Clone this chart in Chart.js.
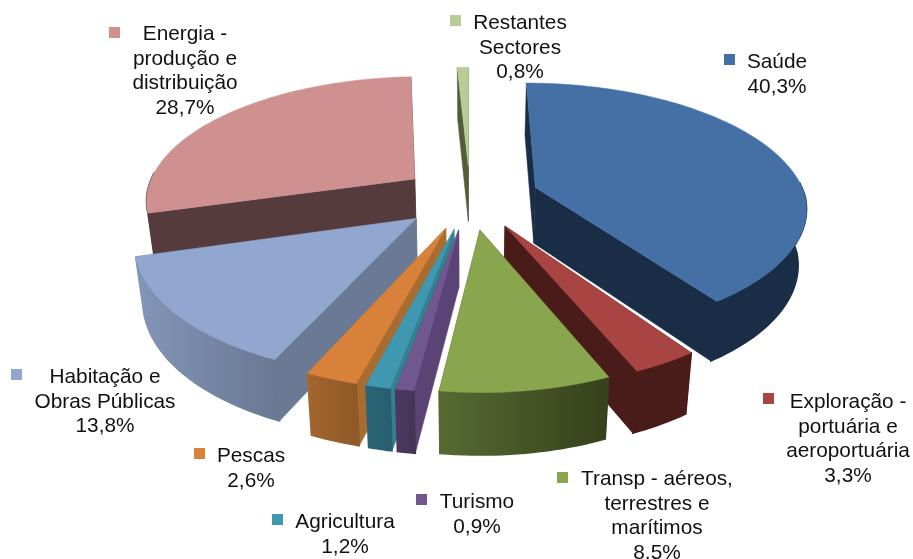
<!DOCTYPE html>
<html>
<head>
<meta charset="utf-8">
<style>
html,body{margin:0;padding:0;background:#fff;overflow:hidden}
canvas{display:block}
</style>
<script src="https://cdn.jsdelivr.net/npm/chart.js@4"></script>
</head>
<body>
<canvas id="myChart" width="913" height="559"></canvas>
<script>
const categories=[
    ['Saúde'],
    ['Exploração -','portuária e','aeroportuária'],
    ['Transp - aéreos,','terrestres e','marítimos'],
    ['Turismo'],
    ['Agricultura'],
    ['Pescas'],
    ['Habitação e','Obras Públicas'],
    ['Energia -','produção e','distribuição'],
    ['Restantes','Sectores'],
]
const values=[40.3,3.3,8.5,0.9,1.2,2.6,13.8,28.7,0.8]

const colors=['#4570a6','#a84542','#89a54d','#71578f','#4098b0','#d8813b','#92a7cf','#cf9190','#b8cd96']
const walls=['#1a2d46','#4a1c19','#4a5a2a','#5a4475','#33808f','#a86b30','#6b7a94','#553b3b','#505f3a']
const rimLeft=['#1a2d46','#4a1c19','#566a31','#4a3860','#2a6577','#a3662d','#8296b8','#553b3b','#505f3a']
const rimRight=['#1a2d46','#4a1c19','#36401b','#463455','#285e6f','#8f5928','#6a7993','#553b3b','#505f3a']

// cx = center of each label block, y = first baseline, mx/my = marker square
const labelPos=[
    {cx:777,y:68,mx:724,my:54},
    {cx:848,y:408,mx:763,my:393},
    {cx:657,y:485,mx:557,my:472},
    {cx:477,y:508,mx:416,my:494},
    {cx:345,y:528,mx:272,my:514},
    {cx:251,y:462,mx:194,my:448},
    {cx:105,y:383,mx:11,my:369},
    {cx:185,y:40,mx:109,my:27},
    {cx:520,y:29,mx:450,my:15},
]

// camera of the tilted pie
const cam={x:470,y:197,k:0.46,p:0.0006,pLeft:0.00056,pRight:0.00052,scale:1.09,depth:56,grow:0.0006,shrink:0.025}

const project=(u,v)=>{
    const s=1/(1-cam.p*v)
    const sx=v>0?1/(1-(u<0?cam.pLeft:cam.pRight)*v):s
    return [cam.x+u*sx,cam.y+cam.k*v*s]
}
const drop=([x,y])=>[
    x+(cam.x-x)*cam.shrink,
    y+cam.depth*(1+cam.grow*(y-cam.y)),
]
const poly=(ctx,pts,fill,lw)=>{
    ctx.beginPath()
    pts.forEach((p,i)=>i?ctx.lineTo(p[0],p[1]):ctx.moveTo(p[0],p[1]))
    ctx.closePath()
    ctx.fillStyle=fill
    ctx.fill()
    ctx.strokeStyle=fill
    ctx.lineWidth=lw
    ctx.stroke()
}

const pie3d={
    id:'pie3d',
    beforeDatasetDraw(chart,args){
        const ctx=chart.ctx
        const slices=chart.getDatasetMeta(args.index).data.map((el,i)=>{
            const off=el.options.offset*cam.scale
            const mid=(el.startAngle+el.endAngle)/2
            const ou=Math.cos(mid)*off
            const ov=Math.sin(mid)*off
            const r=el.outerRadius*cam.scale
            const rim=[]
            const front=[]
            const n=Math.max(2,Math.ceil((el.endAngle-el.startAngle)*40))
            for(let j=0;j<=n;j++){
                const a=el.startAngle+(el.endAngle-el.startAngle)*j/n
                const p=project(ou+Math.cos(a)*r,ov+Math.sin(a)*r)
                rim.push(p)
                // the back of the rim stays hidden under the top face
                if(Math.sin(a)>-0.05)front.push(p)
            }
            return {i,ov,apex:project(ou,ov),rim,front}
        })
        // back to front
        slices.sort((a,b)=>a.ov-b.ov)
        slices.forEach(({i,apex,rim,front})=>{
            const first=rim[0]
            const last=rim[rim.length-1]
            poly(ctx,[apex,first,drop(first),drop(apex)],walls[i],0.5)
            poly(ctx,[apex,last,drop(last),drop(apex)],walls[i],0.5)
            if(front.length>1){
                const xs=front.map(p=>p[0])
                const g=ctx.createLinearGradient(Math.min(...xs),0,Math.max(...xs),0)
                g.addColorStop(0,rimLeft[i])
                g.addColorStop(1,rimRight[i])
                poly(ctx,front.concat(front.map(drop).reverse()),g,1.5)
            }
            poly(ctx,[apex,...rim],colors[i],0.5)
        })
        return false
    },
    afterDraw(chart){
        const ctx=chart.ctx
        ctx.save()
        ctx.font='20.8px "Liberation Sans", Arial, sans-serif'
        ctx.textAlign='center'
        ctx.textBaseline='alphabetic'
        categories.forEach((lines,i)=>{
            const p=labelPos[i]
            ctx.fillStyle=colors[i]
            ctx.fillRect(p.mx,p.my,11,11)
            ctx.fillStyle='#111'
            const pct=String(values[i]).replace('.',',')+'%'
            lines.concat(pct).forEach((t,j)=>ctx.fillText(t,p.cx,p.y+j*24.6))
        })
        ctx.restore()
    },
}

const ctx=document.getElementById('myChart').getContext('2d')
new Chart(ctx,{
    type:'pie',
    data:{
        labels:categories,
        datasets:[{
            data:values,
            backgroundColor:colors,
            borderWidth:0,
            offset:63.7,
        }],
    },
    options:{
        responsive:false,
        animation:false,
        plugins:{legend:{display:false},tooltip:{enabled:false}},
    },
    plugins:[pie3d],
})
</script>
</body>
</html>
